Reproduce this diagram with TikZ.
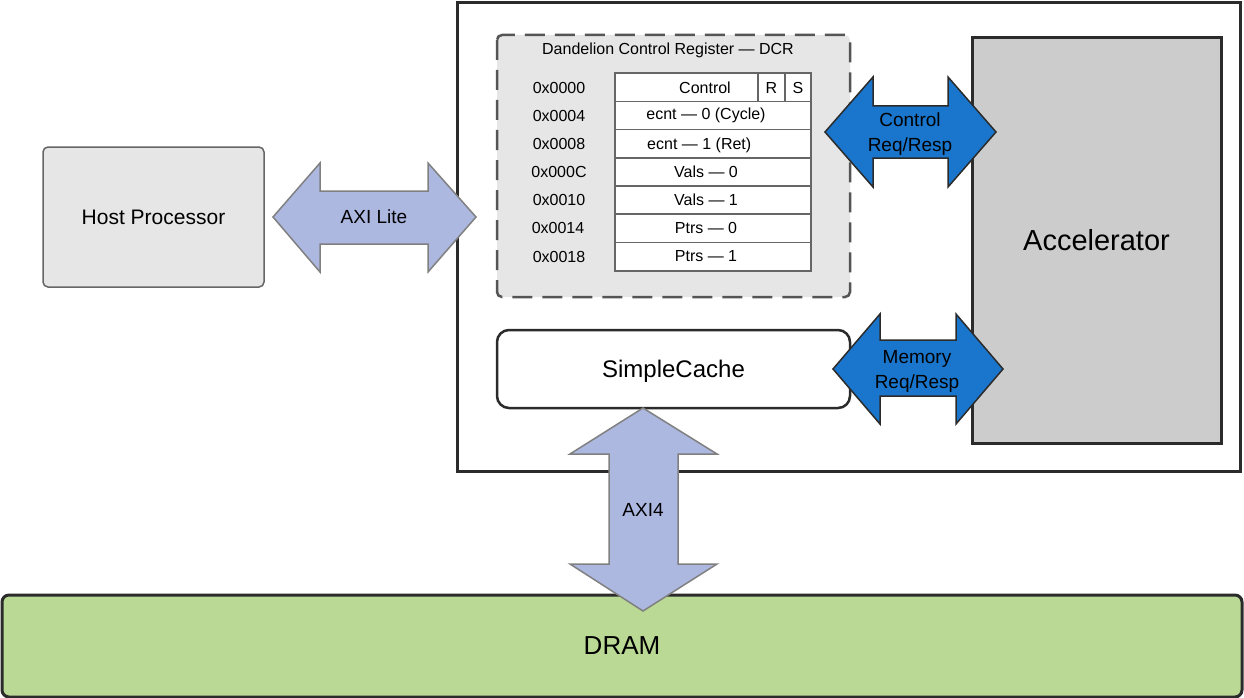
\documentclass[tikz,border=0pt]{standalone}
\usepackage{fontspec}
\setmainfont{Liberation Sans}
\usetikzlibrary{positioning}
\definecolor{linedark}{HTML}{2B2B2B}
\definecolor{hostgray}{HTML}{E6E6E6}
\definecolor{hostline}{HTML}{666666}
\definecolor{accgray}{HTML}{CCCCCC}
\definecolor{dcrline}{HTML}{555555}
\definecolor{axiblue}{HTML}{ADB8E1}
\definecolor{axiline}{HTML}{808080}
\definecolor{reqblue}{HTML}{1A76CC}
\definecolor{dramgreen}{HTML}{B9D994}
\tikzset{>=latex}

\begin{document}
\begin{tikzpicture}[x=1pt, y=-1pt,
            bigbox/.style={draw=linedark, line width=3pt},
            cell/.style={draw=hostline, line width=1.2pt, fill=white},
            axiarrow/.style={draw=axiline, line width=1.5pt, fill=axiblue, line join=miter},
            reqarrow/.style={draw=linedark, line width=1.5pt, fill=reqblue, line join=miter},
            regtext/.style={font=\fontsize{16}{19}\selectfont},
            arrowtext/.style={font=\fontsize{19}{25}\selectfont, align=center}
        ]
            \useasboundingbox (0,0) rectangle (1244,698);
            % corners
            \coordinate (hostl) at (43,147);
            \coordinate (hostr) at (264,287);
            \coordinate (outerl) at (457,3);
            \coordinate (outerr) at (1240,471);
            \coordinate (dcrl) at (497,35);
            \coordinate (dcrr) at (850,297);
            \coordinate (cachel) at (497,330);
            \coordinate (cacher) at (850,408);
            \coordinate (accl) at (972,38);
            \coordinate (accr) at (1221,443);
            \coordinate (draml) at (2,595);
            \coordinate (dramr) at (1242,697);
            % boxes
            \draw[draw=hostline, line width=1.5pt, fill=hostgray, rounded corners=5pt] (hostl) rectangle (hostr) node[midway, font=\fontsize{21}{25}\selectfont] (host) {Host Processor};
            \draw[bigbox, fill=white] (outerl) rectangle (outerr);
            \draw[draw=dcrline, line width=2.5pt, dash pattern=on 20pt off 10pt, fill=hostgray, rounded corners=5pt] (dcrl) rectangle (dcrr);
            \draw[bigbox, line width=2.5pt, rounded corners=12pt] (cachel) rectangle (cacher) node[midway, yshift=-2pt, font=\fontsize{24}{28}\selectfont] (cache) {SimpleCache};
            \draw[bigbox, fill=accgray] (accl) rectangle (accr) node[midway, font=\fontsize{29}{34}\selectfont] (acc) {Accelerator};
            \draw[bigbox, fill=dramgreen, rounded corners=7pt] (draml) rectangle (dramr) node[midway, font=\fontsize{26}{30}\selectfont] (dram) {DRAM};
            % register table
            \node[regtext] (dcrtitle) at (668,50) {Dandelion Control Register — DCR};
            \draw[cell] (615,73) rectangle (758,101.5);
            \draw[cell] (758,73) rectangle (785,101.5);
            \draw[cell] (785,73) rectangle (811,101.5);
            \draw[cell] (615,101.5) rectangle (811,129.5);
            \draw[cell] (615,129.5) rectangle (811,158);
            \draw[cell] (615,158) rectangle (811,186);
            \draw[cell] (615,186) rectangle (811,214);
            \draw[cell] (615,214) rectangle (811,242.5);
            \draw[cell] (615,242.5) rectangle (811,271);
            \node[regtext] (ctrl) at (705,87.5) {Control};
            \node[regtext] (rbit) at (771.5,87.5) {R};
            \node[regtext] (sbit) at (798,87.5) {S};
            \node[regtext] (ecntzero) at (706,115.5) {ecnt — 0 (Cycle)};
            \node[regtext, anchor=west, inner sep=0pt] (ecntone) at (647,145) {ecnt — 1 (Ret)};
            \node[regtext] (valszero) at (706,172) {Vals — 0};
            \node[regtext] (valsone) at (706,200) {Vals — 1};
            \node[regtext] (ptrszero) at (706,228) {Ptrs — 0};
            \node[regtext] (ptrsone) at (706,256.5) {Ptrs — 1};
            % addresses
            \node[regtext] (addrzero) at (559,87.5) {0x0000};
            \node[regtext] (addrfour) at (559,115.5) {0x0004};
            \node[regtext] (addreight) at (559,143.5) {0x0008};
            \node[regtext] (addrc) at (559,172) {0x000C};
            \node[regtext] (addrten) at (559,200) {0x0010};
            \node[regtext] (addrfourteen) at (558,228) {0x0014};
            \node[regtext] (addreighteen) at (559,256.5) {0x0018};
            % fat arrows
            \draw[axiarrow] (273,217) -- (320,163) -- (320,191) -- (428,191) -- (428,163) -- (476,217) -- (428,272) -- (428,244) -- (320,244) -- (320,272) -- cycle;
            \node[arrowtext] (axilite) at (374,217) {AXI Lite};
            \draw[axiarrow] (643,408) -- (717,454) -- (678,454) -- (678,564) -- (717,564) -- (643,611) -- (570,564) -- (609,564) -- (609,454) -- (570,454) -- cycle;
            \node[arrowtext] (axifour) at (643,510) {AXI4};
            \draw[reqarrow] (825,132) -- (873,77) -- (873,106) -- (948,106) -- (948,77) -- (996,132) -- (948,187) -- (948,158) -- (873,158) -- (873,187) -- cycle;
            \node[arrowtext] (ctrlreq) at (910,134) {Control\\Req/Resp};
            \draw[reqarrow] (833,369) -- (880,314) -- (880,340) -- (956,340) -- (956,314) -- (1003,369) -- (956,424) -- (956,396) -- (880,396) -- (880,424) -- cycle;
            \node[arrowtext] (memreq) at (917,371) {Memory\\Req/Resp};
        \end{tikzpicture}
\end{document}
